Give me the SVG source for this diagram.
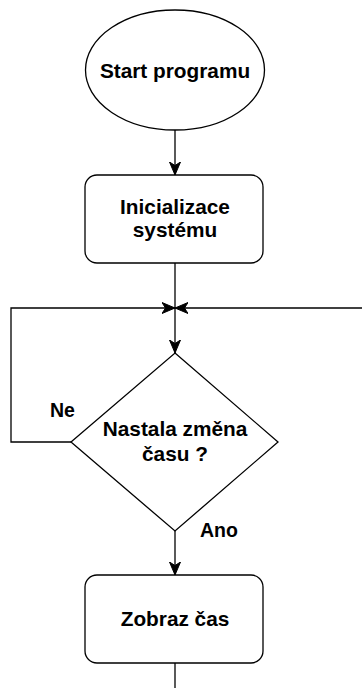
<svg xmlns="http://www.w3.org/2000/svg" width="362" height="688" viewBox="0 0 362 688">
<style>
.shape{fill:#fff;stroke:#000;stroke-width:1.3}
.edge{fill:none;stroke:#000;stroke-width:1.3}
.t{font-family:"Liberation Sans",Arial,sans-serif;font-weight:bold;font-size:20.8px;fill:#000;text-anchor:middle}
.lbl{font-family:"Liberation Sans",Arial,sans-serif;font-weight:bold;font-size:19.5px;fill:#000}
</style>
<defs>
<marker id="arr" markerUnits="userSpaceOnUse" markerWidth="14" markerHeight="12" refX="13" refY="6" orient="auto">
<path d="M0,0.5 L13,6 L0,11.5 L3.5,6 z" fill="#000" stroke="#000" stroke-width="1"/>
</marker>
</defs>
<rect width="362" height="688" fill="#fff"/>
<g id="connectors">
<path class="edge" d="M175,130 V175" marker-end="url(#arr)"/>
<path class="edge" d="M175,263 V353" marker-end="url(#arr)"/>
<path class="edge" d="M71,442 H11 V308 H175" marker-end="url(#arr)"/>
<path class="edge" d="M362,308 H175" marker-end="url(#arr)"/>
<path class="edge" d="M175,531 V575" marker-end="url(#arr)"/>
<path class="edge" d="M175,663 V688"/>
<text class="lbl" x="50" y="417">Ne</text>
<text class="lbl" x="200" y="537">Ano</text>
</g>
<g id="start">
<ellipse class="shape" cx="175" cy="70" rx="89.5" ry="60"/>
<text class="t" x="175" y="78">Start programu</text>
</g>
<g id="init">
<rect class="shape" x="85" y="175" width="178" height="88" rx="12"/>
<text class="t" x="175" y="214">Inicializace</text>
<text class="t" x="175" y="237">systému</text>
</g>
<g id="decision">
<path class="shape" d="M175,353 L278,442 L175,531 L71,442 Z"/>
<text class="t" x="175" y="436">Nastala změna</text>
<text class="t" x="175" y="461">času ?</text>
</g>
<g id="show">
<rect class="shape" x="85" y="575" width="178" height="88" rx="12"/>
<text class="t" x="175" y="626">Zobraz čas</text>
</g>
</svg>
